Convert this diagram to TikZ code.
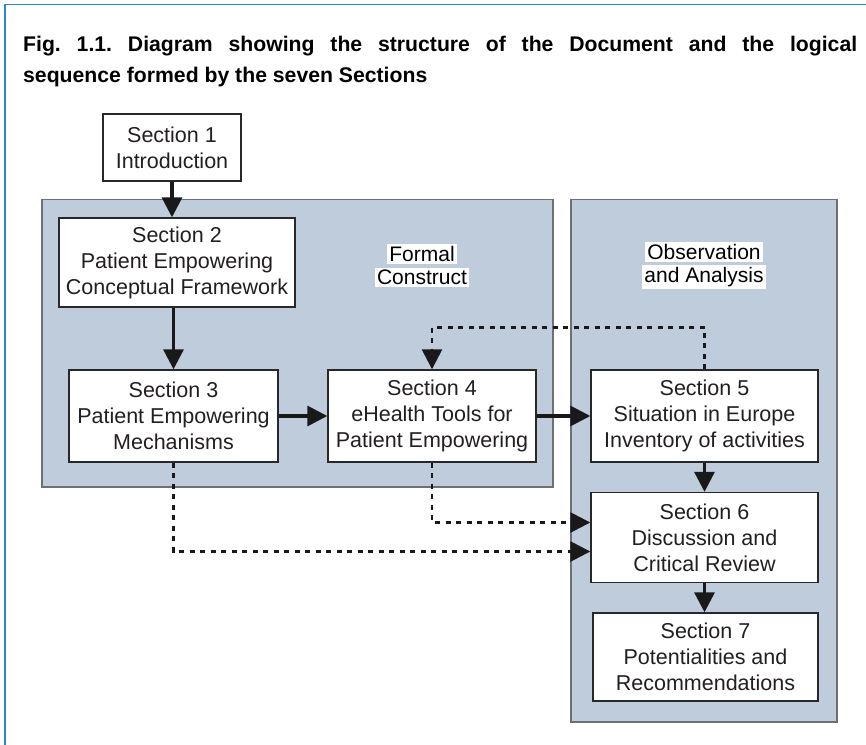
\documentclass[tikz,border=0pt]{standalone}
\usepackage{fontspec}
\setmainfont{Liberation Sans}
\usetikzlibrary{arrows.meta}
\definecolor{panelfill}{RGB}{190,204,219}
\definecolor{panelline}{RGB}{110,112,116}
\definecolor{boxline}{RGB}{40,40,40}
\definecolor{frameblue}{RGB}{45,135,205}
\definecolor{inktext}{RGB}{35,31,32}
\setlength{\fboxsep}{2bp}
\newcommand{\hlwhite}[1]{\colorbox{white}{#1}}
\tikzset{
  panel/.style={draw=panelline, fill=panelfill, line width=1.4bp, inner sep=0pt},
  secbox/.style={draw=boxline, fill=white, line width=1.4bp, align=center, text=inktext,
    inner sep=0pt, font=\fontsize{21.5bp}{26bp}\selectfont},
  flow/.style={draw=black!90, line width=3.2bp, -{Triangle[length=20bp,width=20bp]}},
  dotflow/.style={flow, line width=2.6bp, dash pattern=on 5bp off 5.5bp},
  tag/.style={align=center, inner sep=0pt, font=\fontsize{21bp}{23bp}\selectfont},
  captiontext/.style={anchor=base west, inner sep=0pt, font=\bfseries\fontsize{21.2bp}{31bp}\selectfont},
}

\begin{document}
\begin{tikzpicture}[x=1bp, y=-1bp]
  \useasboundingbox (0,0) rectangle (866,745);
  % frame
  \draw[frameblue, line width=1.5bp] (5,745) -- (5,4.5) -- (866,4.5);
  % caption
  \node[captiontext] (caption) at (23,52)
    {\hbox to 834bp{Fig.\ 1.1.\ Diagram showing the structure of the Document and the logical}};
  \node[captiontext] (caption2) at (23,83) {sequence formed by the seven Sections};

  % panels
  \node[panel, minimum width=511bp, minimum height=287.5bp] (formal) at (297.5,343.25) {};
  \node[panel, minimum width=266bp, minimum height=522.5bp] (observ) at (704,460.75) {};
  \node[tag] (formaltag) at (422,265.5) {\hlwhite{Formal}\\\hlwhite{Construct}};
  \node[tag] (observtag) at (704,265.5) {\hlwhite{Observation}\\\hlwhite{and Analysis}};

  % sections
  \node[secbox, minimum width=138bp, minimum height=67bp] (s1) at (172,147.5) {Section 1\\Introduction};
  \node[secbox, minimum width=236bp, minimum height=89bp] (s2) at (177,262.5) {Section 2\\Patient Empowering\\Conceptual Framework};
  \node[secbox, minimum width=209bp, minimum height=92bp] (s3) at (173.5,416) {Section 3\\Patient Empowering\\Mechanisms};
  \node[secbox, minimum width=208bp, minimum height=92bp] (s4) at (432,416) {Section 4\\eHealth Tools for\\Patient Empowering};
  \node[secbox, minimum width=227bp, minimum height=92bp] (s5) at (704.5,416) {Section 5\\Situation in Europe\\Inventory of activities};
  \node[secbox, minimum width=227bp, minimum height=90bp] (s6) at (704.5,537.5) {Section 6\\Discussion and\\Critical Review};
  \node[secbox, minimum width=225bp, minimum height=88bp] (s7) at (705.5,657) {Section 7\\Potentialities and\\Recommendations};

  % solid links
  \draw[flow] (s1.south) -- (s1.south |- s2.north);
  \draw[flow] (s3.north |- s2.south) -- (s3.north);
  \draw[flow] (s3.east) -- (s4.west);
  \draw[flow] (s4.east) -- (s5.west);
  \draw[flow] (s5.south) -- (s6.north);
  \draw[flow] (s6.south) -- (s6.south |- s7.north);

  % dotted links
  \draw[dotflow] (s5.north) -- ++(0,-42) -| (s4.north);
  \draw[dotflow] (s4.south) |- ([yshift=15bp]s6.west);
  \draw[dotflow] (s3.south) |- ([yshift=-14bp]s6.west);
\end{tikzpicture}
\end{document}
